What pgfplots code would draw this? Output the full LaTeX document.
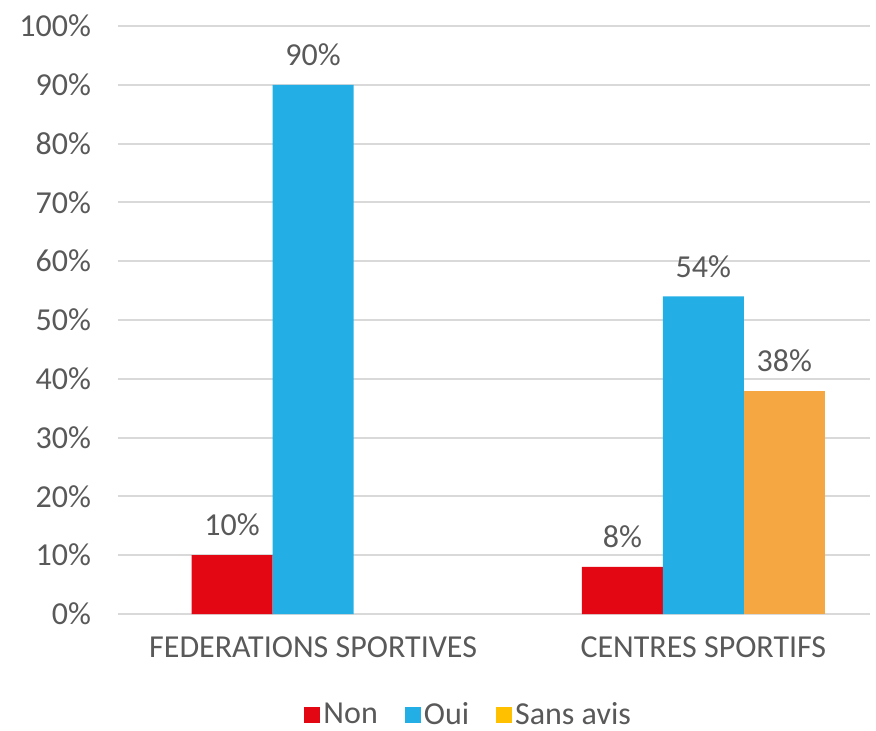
\documentclass[border=0pt]{standalone}
\usepackage{pgfplots}
\pgfplotsset{compat=1.18}
\usepackage{fontspec}
\setmainfont{Carlito}
\definecolor{cred}{HTML}{E30613}
\definecolor{cblue}{HTML}{23AFE5}
\definecolor{corange}{HTML}{F5A742}
\definecolor{cyellow}{HTML}{FFC000}
\definecolor{ctext}{HTML}{595959}
\definecolor{cgrid}{HTML}{D9D9D9}
\begin{document}
\begin{tikzpicture}
\path[use as bounding box] (-59pt,-58pt) rectangle (379pt,307pt);
\begin{axis}[
  at={(0,0)}, anchor=south west,
  scale only axis,
  width=376pt, height=294pt,
  ybar=0pt, bar width=40.5pt,
  xmin=-0.5, xmax=1.427,
  ymin=0, ymax=100,
  ytick={0,10,...,100},
  xtick={0,1},
  xticklabels={FEDERATIONS SPORTIVES, CENTRES SPORTIFS},
  yticklabel={\pgfmathprintnumber{\tick}\%},
  /pgf/number format/assume math mode=true,
  ymajorgrids, grid style={cgrid, line width=1pt},
  axis line style={draw=none},
  major tick length=0pt,
  tick label style={font=\fontsize{16}{19}\selectfont, text=ctext},
  yticklabel shift=10pt,
  xticklabel shift=8pt,
  nodes near coords={\pgfmathprintnumber{\pgfplotspointmeta}\%},
  nodes near coords style={font=\fontsize{16}{19}\selectfont, text=ctext, yshift=6pt},
  legend style={draw=none, at={(0.467,-0.172)}, anchor=center, legend columns=-1,
    inner sep=0pt,
    nodes={inner sep=1.5pt},
    font=\fontsize{16}{19}\selectfont, text=ctext,
    /tikz/every even column/.append style={column sep=12pt}},
  legend image code/.code={\fill[#1] (0pt,-4pt) rectangle (8pt,4pt);},
]
\addplot[fill=cred, draw=none] coordinates {(0,10) (1,8)};
\addplot[fill=cblue, draw=none] coordinates {(0,90) (1,54)};
\addplot[fill=corange, draw=none,
  legend image code/.code={\fill[cyellow] (0pt,-4pt) rectangle (8pt,4pt);}] coordinates {(1,38)};
\legend{Non, Oui, Sans avis}
\end{axis}
\end{tikzpicture}
\end{document}
